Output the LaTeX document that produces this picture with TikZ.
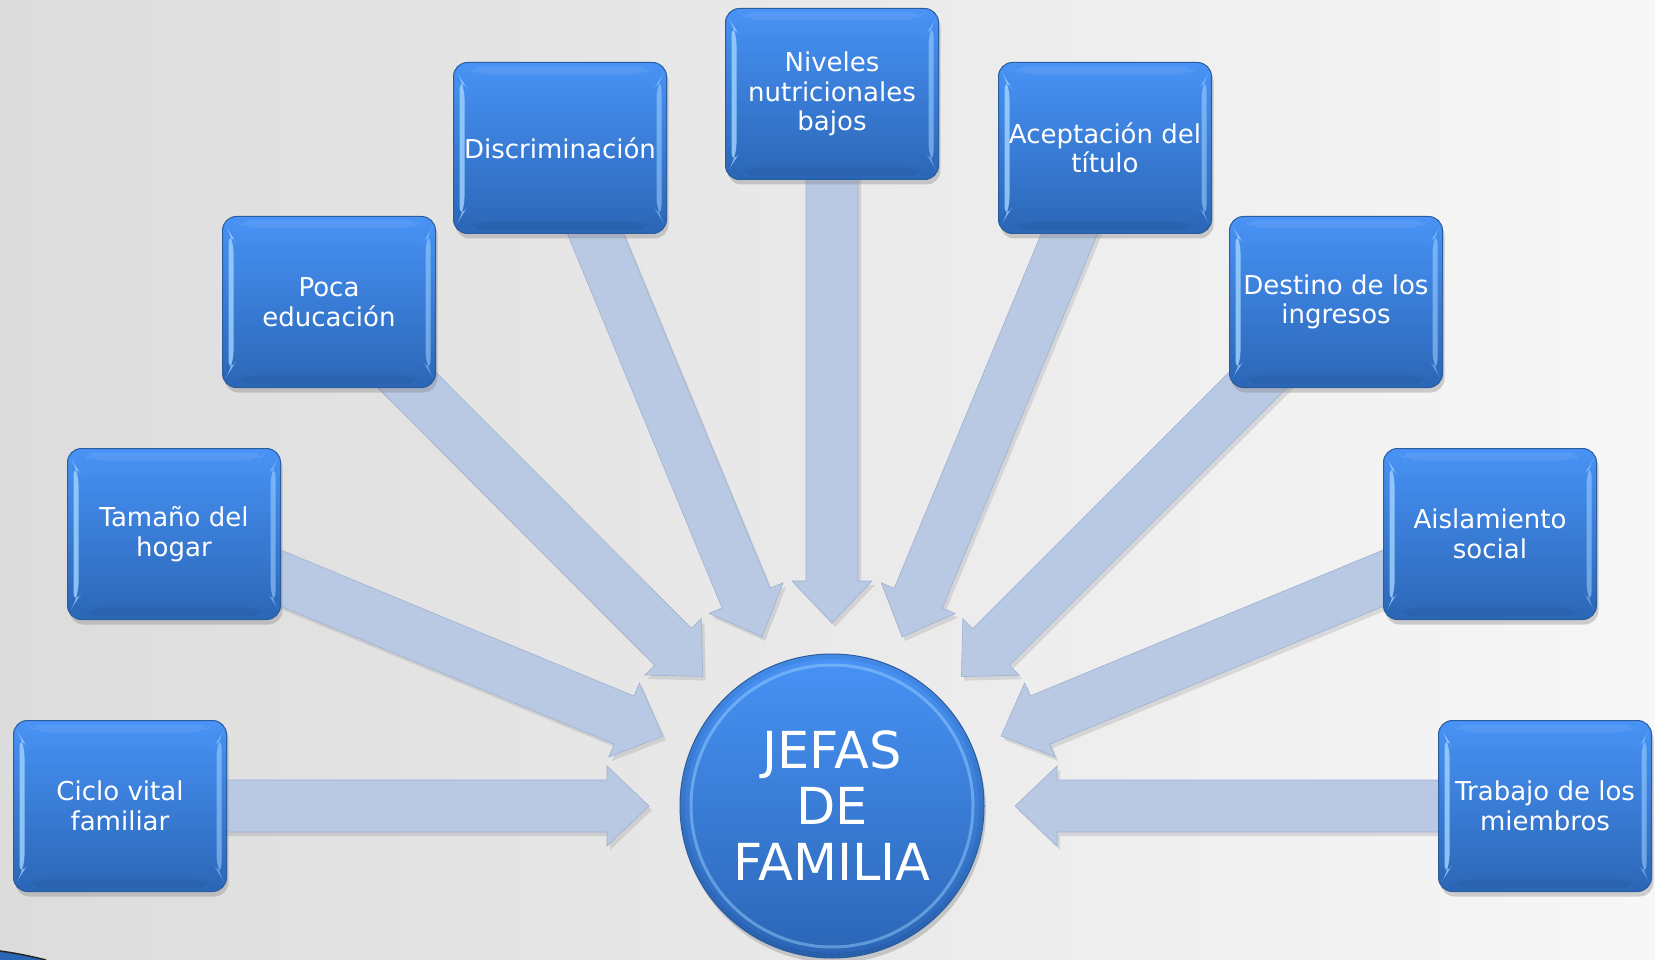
\documentclass[tikz,border=0pt]{standalone}
\usepackage{fontspec}
\setmainfont{DejaVu Sans}
\usetikzlibrary{calc,shadows}
\definecolor{bxtop}{HTML}{4893F6}
\definecolor{bxbot}{HTML}{2B66B6}
\definecolor{bxrim}{HTML}{2A5C9E}
\definecolor{hl}{HTML}{A3D5FF}
\definecolor{arrfill}{HTML}{B9C9E4}
\definecolor{arrline}{HTML}{9EB1D4}
\definecolor{bgl}{HTML}{DCDCDC}
\definecolor{bgr}{HTML}{F7F7F7}
\pgfdeclarelayer{bg}
\pgfdeclarelayer{arrs}
\pgfsetlayers{bg,arrs,main}
\begin{document}
\begin{tikzpicture}[x=1pt,y=-1pt,
  box/.style={rounded corners=14pt, minimum width=213pt, minimum height=171pt,
    inner sep=0pt, draw=bxrim, line width=1pt, top color=bxtop, bottom color=bxbot,
    text=white, align=center, font=\fontsize{26}{29.5}\selectfont,
    drop shadow={opacity=0.35, shadow xshift=2pt, shadow yshift=-5pt},
    path picture={
      \fill[hl,opacity=.8]
        ([xshift=6pt,yshift=-14pt]path picture bounding box.north west) --
        ([xshift=11pt,yshift=-22pt]path picture bounding box.north west) --
        ([xshift=11pt,yshift=22pt]path picture bounding box.south west) --
        ([xshift=6pt,yshift=14pt]path picture bounding box.south west) -- cycle;
      \fill[hl,opacity=.55]
        ([xshift=-5pt,yshift=-14pt]path picture bounding box.north east) --
        ([xshift=-10pt,yshift=-22pt]path picture bounding box.north east) --
        ([xshift=-10pt,yshift=22pt]path picture bounding box.south east) --
        ([xshift=-5pt,yshift=14pt]path picture bounding box.south east) -- cycle;
      \fill[white,opacity=.08]
        ([xshift=14pt,yshift=-4pt]path picture bounding box.north west) --
        ([xshift=-14pt,yshift=-4pt]path picture bounding box.north east) --
        ([xshift=-22pt,yshift=-12pt]path picture bounding box.north east) --
        ([xshift=22pt,yshift=-12pt]path picture bounding box.north west) -- cycle;
      \fill[black,opacity=.05]
        ([xshift=14pt,yshift=4pt]path picture bounding box.south west) --
        ([xshift=-14pt,yshift=4pt]path picture bounding box.south east) --
        ([xshift=-22pt,yshift=12pt]path picture bounding box.south east) --
        ([xshift=22pt,yshift=12pt]path picture bounding box.south west) -- cycle;
    }},
  bigarrow/.style={fill=arrfill, draw=arrline, line width=0.6pt,
    drop shadow={opacity=0.22, shadow xshift=3pt, shadow yshift=-4pt}},
  hub/.style={circle, minimum size=304pt, inner sep=0pt, draw=bxrim, line width=1pt,
    top color=bxtop, bottom color=bxbot, text=white, align=center,
    font=\fontsize{51}{56}\selectfont,
    drop shadow={opacity=0.35, shadow xshift=2pt, shadow yshift=-5pt},
    path picture={
      \draw[hl,line width=3pt,opacity=.45] (path picture bounding box.center) circle[radius=141pt];
      \draw[black,line width=6pt,opacity=.06] (path picture bounding box.center) circle[radius=150pt];
    }}
]
\useasboundingbox (0,0) rectangle (1655,960);
\begin{pgfonlayer}{bg}
  \fill[left color=bgl, right color=bgr] (0,0) rectangle (1655,960);
  \fill[bxbot] (0,951) .. controls (15,953) and (30,956) .. (46,960) -- (0,960) -- cycle;
  \draw[black!85,line width=1.5pt] (0,951) .. controls (15,953) and (30,956) .. (46,960);
\end{pgfonlayer}

\node[box] (ciclo) at (120,806) {Ciclo vital\\familiar};
\node[box] (tam)   at (174,534) {Tamaño del\\hogar};
\node[box] (poca)  at (329,302) {Poca\\educación};
\node[box] (disc)  at (560,148) {Discriminación};
\node[box] (niv)   at (832,94)  {Niveles\\nutricionales\\bajos};
\node[box] (acep)  at (1105,148) {Aceptación del\\título};
\node[box] (dest)  at (1336,302) {Destino de los\\ingresos};
\node[box] (aisl)  at (1490,534) {Aislamiento\\social};
\node[box] (trab)  at (1545,806) {Trabajo de los\\miembros};
\node[hub] (jefas) at (832,806) {JEFAS\\DE\\FAMILIA};

\begin{pgfonlayer}{arrs}
\foreach \b in {ciclo,tam,poca,disc,niv,acep,dest,aisl,trab}{
  \path[bigarrow] let \p1=($(\b)-(jefas)$), \n1={atan2(\y1,\x1)} in
    ($(jefas)+(\n1:183pt)$) --
    ($(jefas)+(\n1:225pt)+({\n1+90}:40pt)$) --
    ($(jefas)+(\n1:225pt)+({\n1+90}:26pt)$) --
    ($(\b)+({\n1+90}:26pt)$) --
    ($(\b)+({\n1-90}:26pt)$) --
    ($(jefas)+(\n1:225pt)+({\n1-90}:26pt)$) --
    ($(jefas)+(\n1:225pt)+({\n1-90}:40pt)$) -- cycle;
}
\end{pgfonlayer}
\end{tikzpicture}
\end{document}
